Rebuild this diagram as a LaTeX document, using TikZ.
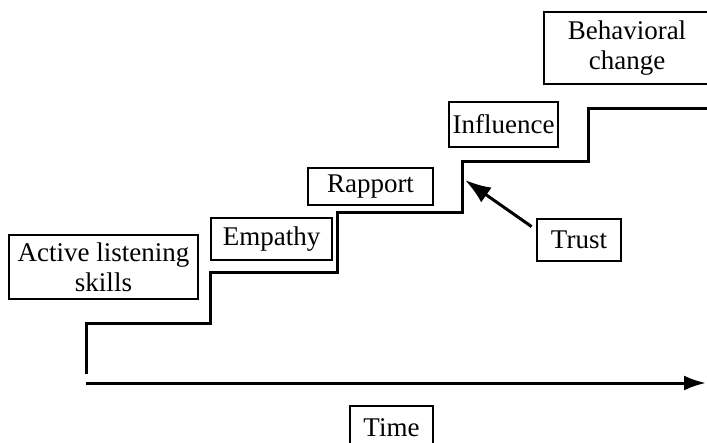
\documentclass[tikz,border=0pt]{standalone}
\usepackage{fontspec}
\setmainfont{Liberation Serif}
\usetikzlibrary{arrows.meta}
\begin{document}
\begin{tikzpicture}[x=1pt,y=-1pt,
  box/.style={draw,line width=2.8pt,inner sep=0pt,align=center,
    font=\fontsize{27}{30}\selectfont},
  stair/.style={line width=3pt,line join=miter},
  conn/.style={line width=3pt}]
\useasboundingbox (0,0) rectangle (707,442);
\clip (0,0) rectangle (707,442);
\node[box,minimum width=189pt,minimum height=64pt] (active) at (103.5,267) {Active listening\\skills};
\node[box,minimum width=121pt,minimum height=42pt] (empathy) at (271.5,239) {Empathy};
\node[box,minimum width=125pt,minimum height=37pt] (rapport) at (370.5,186.5) {Rapport};
\node[box,minimum width=109pt,minimum height=45pt] (influence) at (503.5,124.5) {Influence};
\node[box,minimum width=166pt,minimum height=72pt] (behav) at (627,48) {Behavioral\\change};
\node[box,minimum width=84pt,minimum height=42pt] (trust) at (579,240) {Trust};
\node[box,minimum width=83pt,minimum height=44pt] (time) at (391.5,428) {Time};
\draw[stair] (86,374) -- (86,323) -- (210,323) -- (210,272) -- (337,272) -- (337,212)
  -- (462,212) -- (462,161) -- (588,161) -- (588,108) -- (712,108);
\coordinate (axstart) at (86,383);
\coordinate (axend) at (706,383);
\draw[conn,-{Latex[length=22pt,width=15pt]}] (axstart) -- (axend);
\coordinate (tip) at (465,180);
\draw[conn,-{Latex[length=26pt,width=18pt]}] ([xshift=-4pt,yshift=-9pt]trust.north west) -- (tip);
\end{tikzpicture}
\end{document}
